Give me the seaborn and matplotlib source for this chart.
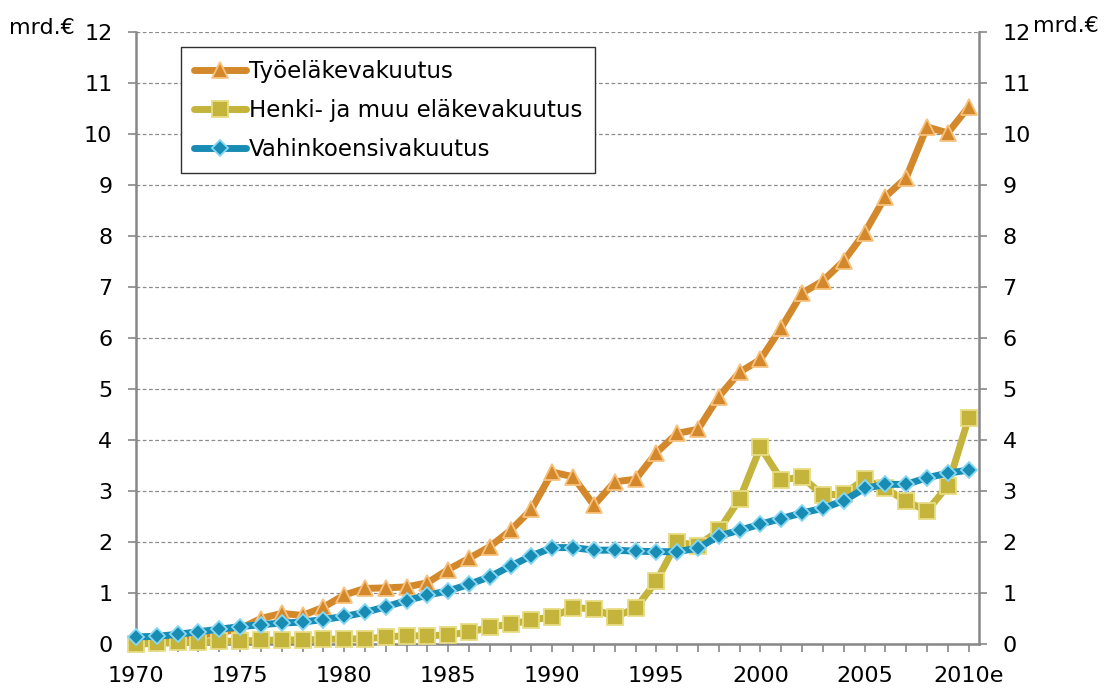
import matplotlib
matplotlib.use("Agg")
import matplotlib.pyplot as plt
import pandas as pd
import seaborn as sns

# Annual values, billion euro
years = list(range(1970, 2011))

tyoelake = [0.05, 0.08, 0.12, 0.17, 0.22, 0.30, 0.50, 0.60, 0.56, 0.72,
            0.96, 1.09, 1.10, 1.12, 1.20, 1.46, 1.68, 1.91, 2.23, 2.64,
            3.37, 3.28, 2.72, 3.18, 3.23, 3.75, 4.13, 4.21, 4.85, 5.33,
            5.58, 6.20, 6.88, 7.12, 7.51, 8.06, 8.77, 9.14, 10.14, 10.02,
            10.53]
henki = [0.00, 0.01, 0.03, 0.04, 0.05, 0.06, 0.07, 0.08, 0.08, 0.09,
         0.10, 0.10, 0.14, 0.16, 0.16, 0.18, 0.23, 0.33, 0.39, 0.47,
         0.53, 0.71, 0.69, 0.53, 0.70, 1.23, 2.00, 1.93, 2.23, 2.84,
         3.86, 3.22, 3.27, 2.92, 2.94, 3.23, 3.05, 2.80, 2.61, 3.10,
         4.43]
vahinko = [0.14, 0.15, 0.19, 0.24, 0.29, 0.34, 0.38, 0.41, 0.43, 0.48,
           0.54, 0.62, 0.73, 0.85, 0.96, 1.04, 1.17, 1.32, 1.53, 1.73,
           1.89, 1.89, 1.84, 1.84, 1.82, 1.81, 1.81, 1.88, 2.12, 2.23,
           2.35, 2.46, 2.57, 2.66, 2.81, 3.05, 3.13, 3.13, 3.26, 3.35,
           3.41]

series_names = ["Työeläkevakuutus", "Henki- ja muu eläkevakuutus", "Vahinkoensivakuutus"]
line_colors = ["#D3892B", "#C4B43C", "#198CB4"]
edge_colors = ["#F8C27E", "#E8DC84", "#86D8F4"]
markers = ["^", "s", "D"]
marker_sizes = [11.5, 11.5, 8.5]

tick_years = [1970, 1975, 1980, 1985, 1990, 1995, 2000, 2005, 2010]
tick_labels = ["1970", "1975", "1980", "1985", "1990", "1995", "2000", "2005", "2010e"]

df = pd.DataFrame({
    "year": years * 3,
    "value": tyoelake + henki + vahinko,
    "series": sum([[n] * len(years) for n in series_names], []),
})

sns.set_style("white")
plt.rcParams["font.family"] = ["DejaVu Sans"]
plt.rcParams["text.color"] = "black"
plt.rcParams["xtick.labelcolor"] = "black"
plt.rcParams["ytick.labelcolor"] = "black"

fig = plt.figure(figsize=(11.04, 6.88), dpi=100)
ax = fig.add_axes([136 / 1104, 44 / 688, (979 - 136) / 1104, (644 - 32) / 688])

for name, lc, ec, m, ms in zip(series_names, line_colors, edge_colors, markers, marker_sizes):
    sns.lineplot(data=df[df["series"] == name], x="year", y="value", ax=ax,
                 color=lc, linewidth=5, marker=m, markersize=ms,
                 markerfacecolor=lc, markeredgecolor=ec, markeredgewidth=1.3,
                 label=name, zorder=3, clip_on=False)

ax.set_xlim(1970, 2010.5)
ax.set_ylim(0, 12)
ax.set_yticks(range(0, 13))
ax.set_xticks(years)
ax.set_xticklabels([tick_labels[tick_years.index(y)] if y in tick_years else "" for y in years])
ax.set_xlabel("")
ax.set_ylabel("")

ax.yaxis.grid(True, linestyle=(0, (3, 2)), color="#8C8C8C", linewidth=0.9)
ax.xaxis.grid(False)
for side in ["left", "right", "bottom"]:
    ax.spines[side].set_color("#878787")
    ax.spines[side].set_linewidth(1.8)
ax.spines["top"].set_visible(False)

ax.tick_params(axis="y", which="both", left=True, right=True, labelleft=True, labelright=True,
               length=6, width=1.2, color="#878787", labelsize=16, pad=11)
ax.tick_params(axis="x", bottom=True, length=6, width=1.2, color="#878787",
               labelsize=16, pad=10, direction="out")

fig.text(9 / 1104, 1 - 28 / 688, "mrd.€", fontsize=16, va="center", ha="left")
fig.text(1033 / 1104, 1 - 26 / 688, "mrd.€", fontsize=16, va="center", ha="left")

leg = ax.legend(loc="upper left", bbox_to_anchor=(45 / 843, 1 - 15 / 612), fontsize=16.5,
                frameon=True, fancybox=False, edgecolor="#303030", framealpha=1,
                handlelength=2.3, handletextpad=0.1, borderpad=0.55, labelspacing=0.7,
                borderaxespad=0)
leg.get_frame().set_linewidth(1.0)

fig.savefig("out.png", dpi=100)
